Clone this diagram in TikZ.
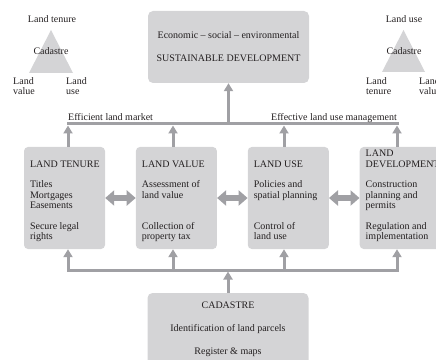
\documentclass[tikz,border=0pt]{standalone}
\usepackage{fontspec}
\setmainfont{Liberation Serif}
\usetikzlibrary{positioning, arrows.meta}
\definecolor{boxgray}{RGB}{212,212,214}
\definecolor{arrowgray}{RGB}{160,160,164}
\definecolor{textgray}{RGB}{35,31,32}
\tikzset{node distance=30.5pt, % Gap between the four land boxes. Change if necessary.
every node/.style={ % Sets the text of every node
text=textgray,
font=\fontsize{10}{10.5}\selectfont},
goal/.style={ % Top and bottom boxes
rounded corners=5pt, fill=boxgray,
minimum width=161pt, minimum height=72pt, align=center},
field/.style={ % The four land boxes
rounded corners=4pt, fill=boxgray,
minimum width=81pt, minimum height=102pt},
fieldtext/.style={ % Text inside the land boxes, last line on its baseline
anchor=base west, align=left, inner sep=0pt},
cornertext/.style={ % Labels at the corners of the triangles
anchor=west, align=left, inner sep=0pt},
bus/.style={ % Horizontal connecting lines
draw=arrowgray, line width=3pt, line cap=rect},
uparrow/.style={ % Vertical arrows
draw=arrowgray, line width=3pt, -{Triangle[width=9pt,length=8pt]}},
twoway/.style={ % Double arrows between the land boxes
draw=arrowgray, line width=6pt,
{Triangle[width=15pt,length=9pt]}-{Triangle[width=15pt,length=9pt]}}}

\begin{document}
\begin{tikzpicture}[x=1pt, y=1pt]
    \useasboundingbox (0,0) rectangle (436,359);
    \clip (0,0) rectangle (436,359);

    \node[goal] (sd) at (228.5,312) {Economic -- social -- environmental\\[12.5pt]SUSTAINABLE DEVELOPMENT};
    \node[goal] (cad) at (228,30) {CADASTRE\\[12.5pt]Identification of land parcels\\[12.5pt]Register \& maps};

    \node[field] (tenure) at (64.5,161) {};
    \node[field, right=of tenure] (value) {};
    \node[field, right=of value] (use) {};
    \node[field, right=of use] (dev) {};

    \node[fieldtext] (tenuretext) at ([shift={(6,9.7)}]tenure.south west) {LAND TENURE\\[10pt]Titles\\Mortgages\\Easements\\[10pt]Secure legal\\rights};
    \node[fieldtext] (valuetext) at ([shift={(6,9.7)}]value.south west) {LAND VALUE\\[10pt]Assessment of\\land value\\[20.5pt]Collection of\\property tax};
    \node[fieldtext] (usetext) at ([shift={(6,9.7)}]use.south west) {LAND USE\\[10pt]Policies and\\spatial planning\\[20.5pt]Control of\\land use};
    \node[fieldtext] (devtext) at ([shift={(6,9.7)}]dev.south west) {LAND\\DEVELOPMENT\\[10pt]Construction\\planning and\\permits\\[10pt]Regulation and\\implementation};

    % triangles
    \fill[boxgray] (29,286) -- (51,329) -- (73,286) -- cycle;
    \node (lten) at (52,340) {Land tenure};
    \node (lcad) at (51,308) {Cadastre};
    \node[cornertext] (lval) at (13,273) {Land\\value};
    \node[cornertext] (luse) at (66,273) {Land\\use};

    \fill[boxgray] (382,287) -- (403.5,329) -- (425,287) -- cycle;
    \node (ruse) at (404,340) {Land use};
    \node (rcad) at (404,308) {Cadastre};
    \node[cornertext] (rten) at (366,273) {Land\\tenure};
    \node[cornertext] (rval) at (419,273) {Land\\value};

    % buses
    \coordinate (t1) at (68,235);
    \coordinate (t2) at (173,235);
    \coordinate (t3) at (284,235);
    \coordinate (t4) at (397,235);
    \coordinate (b1) at (68,89);
    \coordinate (b2) at (173,89);
    \coordinate (b3) at (284,89);
    \coordinate (b4) at (397,89);
    \draw[bus] (t1) -- (t4);
    \draw[bus] (b1) -- (b4);

    \node[anchor=base west, inner sep=0pt] (market) at ([yshift=3.5pt]t1) {Efficient land market};
    \node[anchor=base east, inner sep=0pt] (manage) at ([yshift=3.5pt]t4) {Effective land use management};

    \foreach \i/\n in {1/tenure, 2/value, 3/use, 4/dev} {
        \draw[uparrow, shorten >=1.5pt] (t\i |- \n.north) -- (t\i);
        \draw[uparrow] (b\i) -- (b\i |- \n.south);
    }
    \draw[uparrow] (sd.south |- t1) -- (sd.south);
    \draw[uparrow, shorten >=1.5pt] (cad.north) -- (cad.north |- b1);

    \draw[twoway] (tenure.east) -- (value.west);
    \draw[twoway] (value.east) -- (use.west);
    \draw[twoway] (use.east) -- (dev.west);

\end{tikzpicture}
\end{document}
